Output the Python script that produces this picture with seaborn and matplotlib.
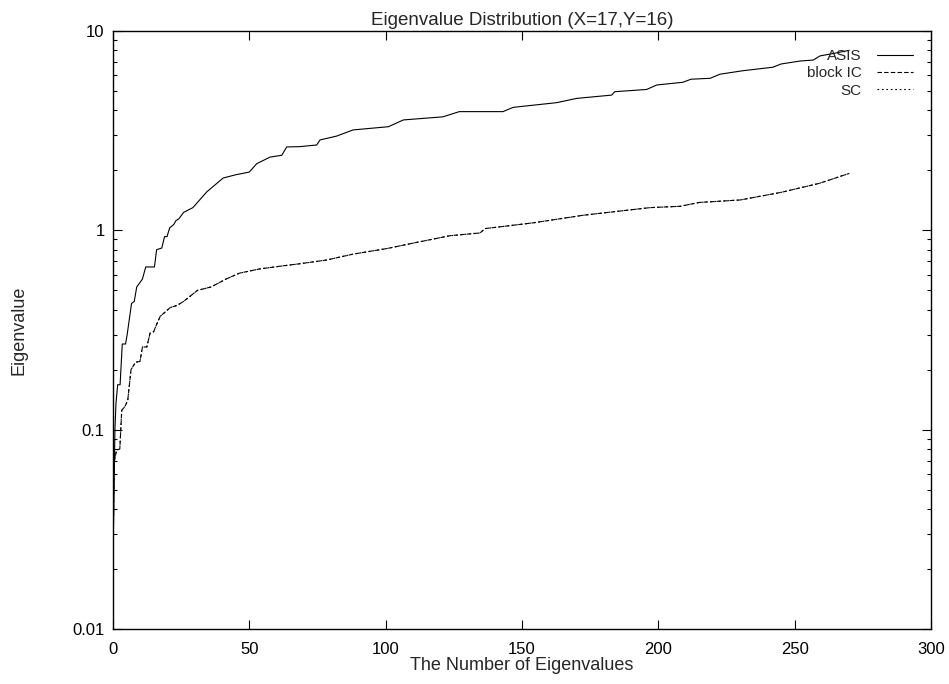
import pandas as pd
import seaborn as sns
import matplotlib
matplotlib.use("Agg")
import matplotlib.pyplot as plt
from matplotlib.ticker import FixedLocator, FixedFormatter, LogLocator, NullFormatter

# values
asis_x = [0, 0.7, 1.1, 1.7, 2.6, 3.4, 4.6, 5.2, 6.8, 7.8, 8.7, 10, 10.8, 12, 15.2, 16,
          17.9, 18.9, 19.8, 20.8, 22.3, 23.1, 24.1, 25.9, 29.3, 34.4, 40.4, 45, 50, 52.7,
          57.6, 61.9, 63.7, 68.6, 74.7, 75.9, 82, 88.1, 101, 106.5, 121, 127, 143, 146.8,
          162.7, 170, 182.9, 184, 195.7, 199.4, 209, 212, 219, 222.6, 231, 242, 245, 252,
          256.8, 259.3, 265, 270]
asis_vals = [0.022, 0.10, 0.136, 0.168, 0.168, 0.269, 0.269, 0.30, 0.43, 0.44, 0.52, 0.55,
             0.57, 0.655, 0.655, 0.80, 0.815, 0.93, 0.93, 1.03, 1.07, 1.12, 1.14, 1.23, 1.30,
             1.56, 1.83, 1.90, 1.96, 2.16, 2.33, 2.38, 2.62, 2.63, 2.68, 2.84, 2.97, 3.19,
             3.31, 3.58, 3.71, 3.94, 3.94, 4.14, 4.37, 4.59, 4.77, 4.96, 5.09, 5.36, 5.53,
             5.73, 5.79, 6.07, 6.32, 6.58, 6.83, 7.07, 7.15, 7.5, 7.75, 8.0]

block_ic_x = [0, 0.4, 1.3, 2.5, 3.2, 4.4, 5.4, 6.6, 8.3, 9.9, 10.8, 12.4, 13.6, 14.9, 16.1,
              17.3, 19.2, 21, 23.5, 25.9, 31, 36, 41.5, 46.4, 53.7, 61, 68.6, 78.4, 88.1,
              100.4, 111.4, 123.6, 134.6, 136.4, 154, 172.4, 186, 197, 208, 215, 230, 245,
              259, 270]
block_ic_vals = [0.02, 0.068, 0.079, 0.08, 0.125, 0.131, 0.14, 0.20, 0.218, 0.22, 0.26, 0.26,
                 0.305, 0.31, 0.34, 0.37, 0.39, 0.41, 0.42, 0.44, 0.50, 0.52, 0.57, 0.61,
                 0.64, 0.66, 0.68, 0.71, 0.76, 0.81, 0.87, 0.94, 0.97, 1.02, 1.09, 1.19, 1.25,
                 1.30, 1.32, 1.38, 1.42, 1.55, 1.72, 1.93]

# SC lies on top of block IC in the picture
sc_x = block_ic_x
sc_vals = [0.02, 0.068, 0.079, 0.08, 0.125, 0.131, 0.14, 0.20, 0.218, 0.22, 0.26, 0.26,
           0.305, 0.31, 0.34, 0.37, 0.39, 0.41, 0.42, 0.44, 0.50, 0.52, 0.57, 0.61,
           0.64, 0.66, 0.68, 0.71, 0.76, 0.81, 0.87, 0.94, 0.97, 1.02, 1.09, 1.19, 1.25,
           1.30, 1.32, 1.38, 1.42, 1.55, 1.72, 1.93]

series_names = ["ASIS", "block IC", "SC"]
y_ticks = [0.01, 0.1, 1, 10]
y_tick_labels = ["0.01", "0.1", "1", "10"]
x_ticks = [0, 50, 100, 150, 200, 250, 300]

df = pd.concat([
    pd.DataFrame({"n": asis_x, "val": asis_vals, "series": "ASIS"}),
    pd.DataFrame({"n": block_ic_x, "val": block_ic_vals, "series": "block IC"}),
    pd.DataFrame({"n": sc_x, "val": sc_vals, "series": "SC"}),
], ignore_index=True)

sns.set_style("ticks")
plt.rcParams["font.family"] = ["Liberation Sans", "DejaVu Sans"]

fig = plt.figure(figsize=(9.49, 6.84), dpi=100)
ax = fig.add_axes([113 / 949, 1 - 629 / 684, 818 / 949, 598 / 684])

sns.lineplot(
    data=df, x="n", y="val", hue="series", style="series", ax=ax,
    palette={s: "black" for s in series_names},
    dashes={"ASIS": "", "block IC": (4, 2), "SC": (1.5, 2.5)},
    hue_order=series_names, style_order=series_names,
    estimator=None, sort=False, linewidth=0.8,
)

ax.set_yscale("log")
ax.set_xlim(0, 300)
ax.set_ylim(0.01, 10)
ax.yaxis.set_major_locator(FixedLocator(y_ticks))
ax.yaxis.set_major_formatter(FixedFormatter(y_tick_labels))
ax.yaxis.set_minor_locator(LogLocator(base=10, subs=range(2, 10)))
ax.yaxis.set_minor_formatter(NullFormatter())
ax.set_xticks(x_ticks)

for s in ax.spines.values():
    s.set_linewidth(1.0)
    s.set_color("black")
ax.tick_params(which="both", direction="in", top=True, right=True, colors="black",
               labelsize=12, width=0.8)
ax.tick_params(which="major", length=6.5)
ax.tick_params(which="minor", length=3.2)
ax.tick_params(axis="x", which="major", pad=9)
ax.tick_params(axis="y", which="major", pad=6)

ax.set_xlabel("The Number of Eigenvalues", fontsize=13, labelpad=0)
ax.set_ylabel("Eigenvalue", fontsize=13, labelpad=32)
ax.set_title("Eigenvalue Distribution (X=17,Y=16)", fontsize=13.5, pad=4)

handles, labels = ax.get_legend_handles_labels()
ax.legend(handles, labels, loc="upper right", bbox_to_anchor=(0.985, 0.98),
          frameon=False, markerfirst=False, handlelength=2.35, handletextpad=1.0,
          labelspacing=0.22, fontsize=11, borderaxespad=0)

fig.savefig("out.png", dpi=100)
